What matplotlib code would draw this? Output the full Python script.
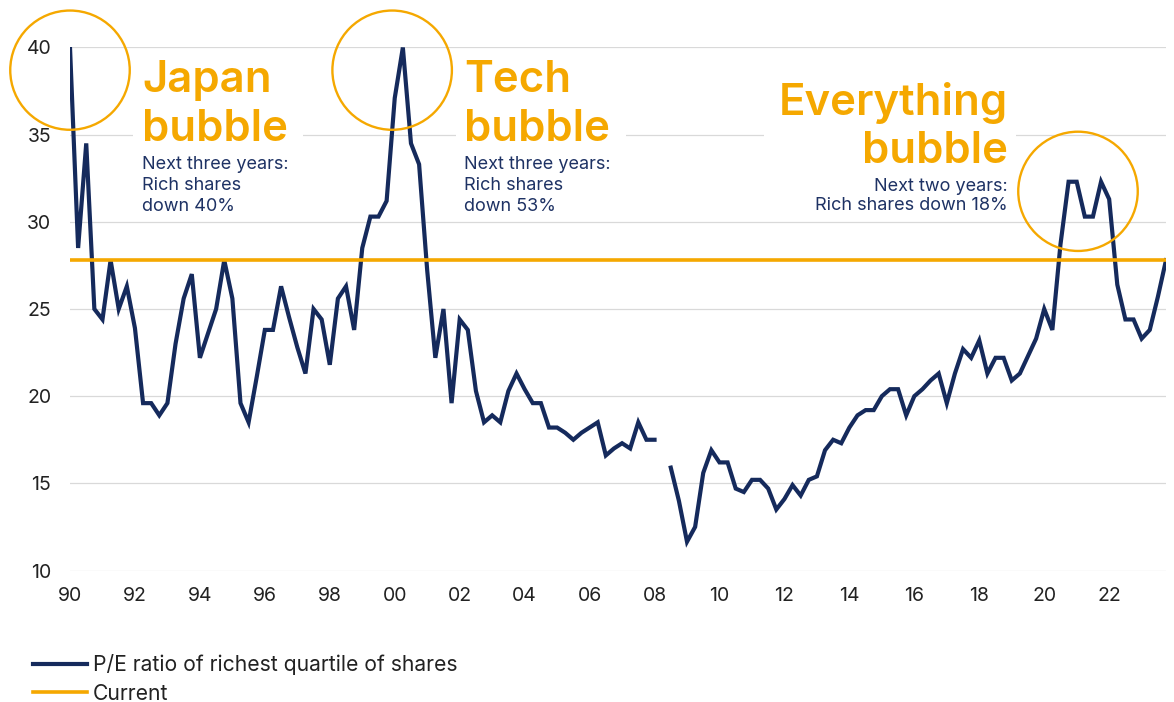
import numpy as np
import matplotlib
matplotlib.use("Agg")
import matplotlib.pyplot as plt
from matplotlib.patches import Ellipse, Rectangle

plt.rcParams['font.family'] = ['Inter', 'DejaVu Sans']

# Quarterly P/E of the richest quartile of shares, 1990Q1 onwards (nan = no data)
pe_values = [
    40.0, 28.5, 34.5, 25.0, 24.4, 27.8, 25.0, 26.3,   # 1990-91
    23.9, 19.6, 19.6, 18.9, 19.6, 23.0, 25.6, 27.0,   # 1992-93
    22.2, 23.6, 25.0, 27.8, 25.6, 19.6, 18.5, 21.1,   # 1994-95
    23.8, 23.8, 26.3, 24.5, 22.8, 21.3, 25.0, 24.4,   # 1996-97
    21.8, 25.6, 26.3, 23.8, 28.5, 30.3, 30.3, 31.2,   # 1998-99
    37.1, 40.0, 34.5, 33.3, 27.2, 22.2, 25.0, 19.6,   # 2000-01
    24.4, 23.8, 20.3, 18.5, 18.9, 18.5, 20.3, 21.3,   # 2002-03
    20.4, 19.6, 19.6, 18.2, 18.2, 17.9, 17.5, 17.9,   # 2004-05
    18.2, 18.5, 16.6, 17.0, 17.3, 17.0, 18.5, 17.5,   # 2006-07
    17.5, np.nan, 15.9, 14.0, 11.65, 12.5, 15.6, 16.9,  # 2008-09
    16.2, 16.2, 14.7, 14.5, 15.2, 15.2, 14.7, 13.5,   # 2010-11
    14.1, 14.9, 14.3, 15.2, 15.4, 16.9, 17.5, 17.3,   # 2012-13
    18.2, 18.9, 19.2, 19.2, 20.0, 20.4, 20.4, 18.9,   # 2014-15
    20.0, 20.4, 20.9, 21.3, 19.6, 21.3, 22.7, 22.2,   # 2016-17
    23.2, 21.3, 22.2, 22.2, 20.9, 21.3, 22.3, 23.3,   # 2018-19
    25.0, 23.8, 28.7, 32.3, 32.3, 30.3, 30.3, 32.3,   # 2020-21
    31.3, 26.4, 24.4, 24.4, 23.3, 23.8, 25.7, 27.8,   # 2022-23
]
start_year = 1990
current_pe = 27.8

tick_years = list(range(1990, 2023, 2))
tick_labels = [f"{y % 100:02d}" for y in tick_years]

series_label = "P/E ratio of richest quartile of shares"
current_label = "Current"

NAVY = '#152A5C'
ORANGE = '#F5A800'
SUB = '#1E3264'
TICK = '#222222'

dates = start_year + np.arange(len(pe_values)) / 4

W, H = 1174, 702
AX_L, AX_R, AX_T, AX_B = 70, 1166, 47.5, 570.5

fig = plt.figure(figsize=(W / 100, H / 100), dpi=100)
ax = fig.add_axes([AX_L / W, (H - AX_B) / H, (AX_R - AX_L) / W, (AX_B - AX_T) / H])


def ax_xy(px, py):
    # picture pixels -> axes fraction
    return (px - AX_L) / (AX_R - AX_L), (AX_B - py) / (AX_B - AX_T)


line, = ax.plot(dates, pe_values, color=NAVY, lw=3.0, zorder=3,
                solid_joinstyle='miter', label=series_label)
cur = ax.axhline(current_pe, color=ORANGE, lw=2.6, zorder=4, label=current_label)

ax.set_xlim(start_year, dates[-1])
ax.set_ylim(10, 40)
ax.set_yticks(range(10, 41, 5))
ax.set_xticks(tick_years)
ax.set_xticklabels(tick_labels)
ax.grid(axis='y', color='#d9d9d9', lw=0.9)
ax.set_axisbelow(True)
for s in ax.spines.values():
    s.set_visible(False)
ax.tick_params(axis='both', length=0, labelsize=14, colors=TICK)
ax.tick_params(axis='y', pad=13.5)
ax.tick_params(axis='x', pad=12)

# white boxes behind the annotations
for x0, x1 in [(133, 303), (456, 626), (764, 1016)]:
    bx, by = ax_xy(x0, 218)
    bw = (x1 - x0) / (AX_R - AX_L)
    bh = (218 - 52) / (AX_B - AX_T)
    ax.add_patch(Rectangle((bx, by), bw, bh, transform=ax.transAxes,
                           facecolor='white', edgecolor='none', zorder=1.5))

# bubble circles
for cx, cy in [(1990.0, 38.7), (1999.92, 38.7), (2021.04, 31.75)]:
    ax.add_patch(Ellipse((cx, cy), 3.68, 6.84, fill=False, edgecolor=ORANGE,
                         lw=1.7, clip_on=False, zorder=4))


def block(px, ha, title, sub):
    kw = dict(transform=ax.transAxes, ha=ha, va='baseline', zorder=5)
    ax.text(*ax_xy(px, title[0][1]), title[0][0], fontsize=31.5, fontweight='semibold',
            color=ORANGE, **kw)
    ax.text(*ax_xy(px, title[1][1]), title[1][0], fontsize=31.5, fontweight='semibold',
            color=ORANGE, **kw)
    for txt, py in sub:
        ax.text(*ax_xy(px, py), txt, fontsize=13, color=SUB, **kw)


block(142, 'left', [("Japan", 92.3), ("bubble", 140.7)],
      [("Next three years:", 169.3), ("Rich shares", 190.5), ("down 40%", 211.5)])
block(464, 'left', [("Tech", 92.3), ("bubble", 140.7)],
      [("Next three years:", 169.3), ("Rich shares", 190.5), ("down 53%", 211.5)])
block(1008, 'right', [("Everything", 115), ("bubble", 162.7)],
      [("Next two years:", 190.7), ("Rich shares down 18%", 210.5)])

fig.legend(handles=[line, cur], loc='upper left',
           bbox_to_anchor=(33 / W, 1 - 654 / H), frameon=False, fontsize=15.2,
           handlelength=2.55, handletextpad=0.27, labelspacing=0.42,
           borderpad=0, borderaxespad=0, labelcolor=TICK)

fig.savefig("out.png", dpi=100)
